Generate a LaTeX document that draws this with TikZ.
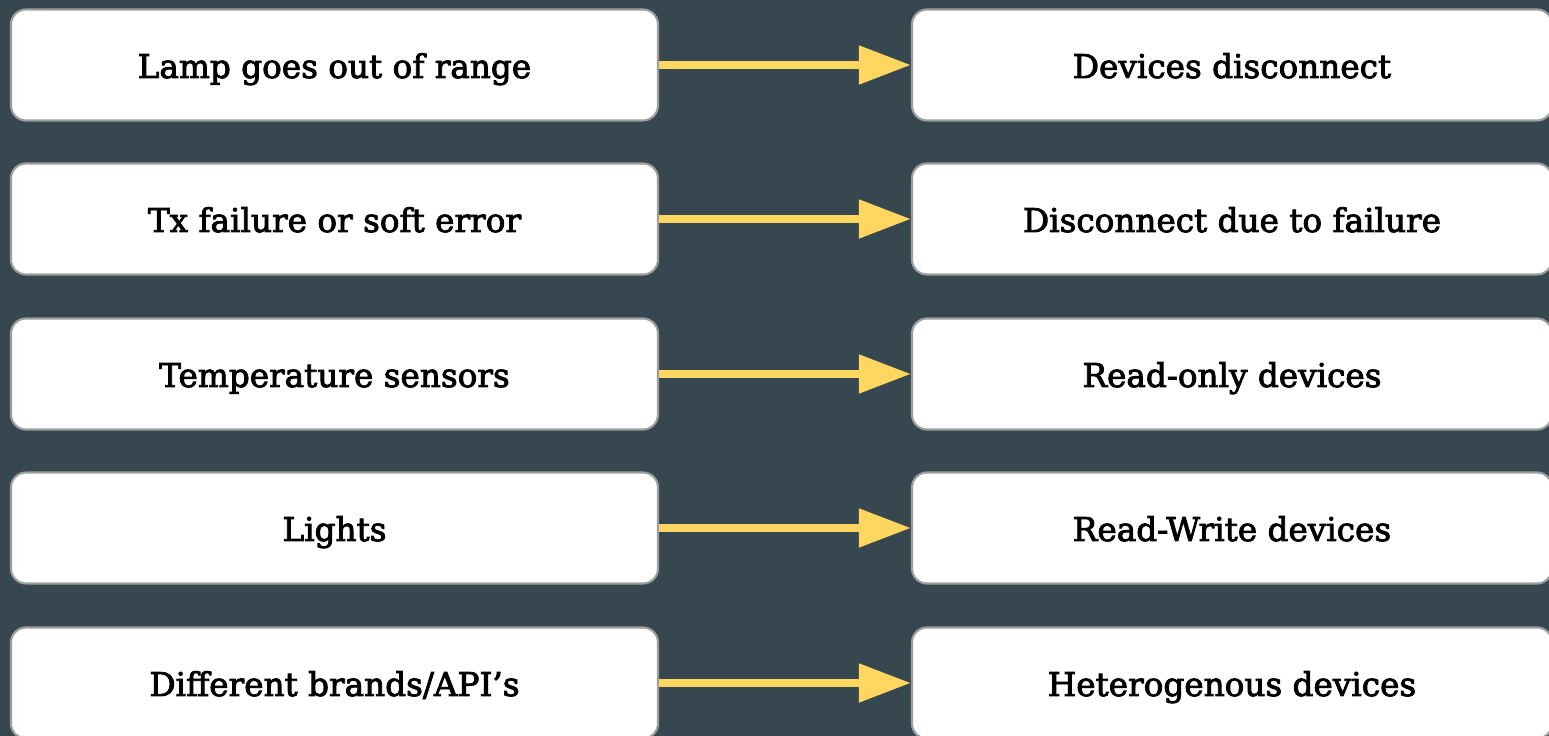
\documentclass[tikz,border=0pt]{standalone}
\usepackage{fontspec}
\setmainfont{DejaVu Serif}[FakeBold=2.6]
\usetikzlibrary{arrows.meta}

\definecolor{slate}{HTML}{37474F}
\definecolor{boxline}{HTML}{9E9E9E}
\definecolor{arrowyellow}{HTML}{FFD660}

\tikzset{
    causebox/.style={draw=boxline, line width=0.6pt, fill=white, rounded corners=0.15cm,
        minimum width=6.47cm, minimum height=1.11cm, inner sep=0pt,
        text height=0.30cm, text depth=0.04cm, font=\fontsize{9.3}{11}\selectfont},
    effectbox/.style={causebox, minimum width=6.40cm},
    leadsto/.style={draw=arrowyellow, line width=0.08cm,
        -{Triangle[length=0.52cm, width=0.37cm]}}
}

\begin{document}
\begin{tikzpicture}
    \useasboundingbox (0, 0) rectangle (15.49, 7.36);
    \fill[slate] (0, 0) rectangle (15.49, 7.36);

    \node[causebox] (lamp) at (3.345, 6.71) {Lamp goes out of range};
    \node[causebox] (tx) at (3.345, 5.17) {Tx failure or soft error};
    \node[causebox] (temp) at (3.345, 3.62) {Temperature sensors};
    \node[causebox] (lights) at (3.345, 2.08) {Lights};
    \node[causebox] (brands) at (3.345, 0.53) {Different brands/API’s};

    \node[effectbox] (disc) at (12.32, 6.71) {Devices disconnect};
    \node[effectbox] (fail) at (12.32, 5.17) {Disconnect due to failure};
    \node[effectbox] (ro) at (12.32, 3.62) {Read-only devices};
    \node[effectbox] (rw) at (12.32, 2.08) {Read-Write devices};
    \node[effectbox] (het) at (12.32, 0.53) {Heterogenous devices};

    \draw[leadsto] (lamp.east) -- (disc.west);
    \draw[leadsto] (tx.east) -- (fail.west);
    \draw[leadsto] (temp.east) -- (ro.west);
    \draw[leadsto] (lights.east) -- (rw.west);
    \draw[leadsto] (brands.east) -- (het.west);
\end{tikzpicture}
\end{document}
